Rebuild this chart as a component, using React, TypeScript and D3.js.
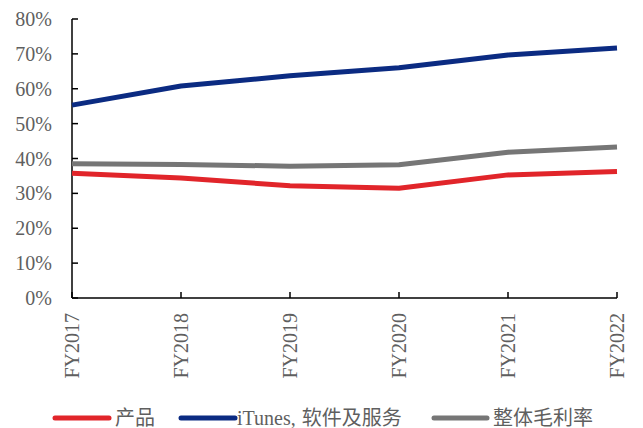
import React from "react";
import * as d3 from "d3";

// Gross margin by segment, fiscal years
const years = ["FY2017", "FY2018", "FY2019", "FY2020", "FY2021", "FY2022"];
const productMargin = [35.8, 34.4, 32.2, 31.5, 35.3, 36.3];
const servicesMargin = [55.3, 60.8, 63.7, 66.0, 69.7, 71.7];
const totalMargin = [38.5, 38.3, 37.8, 38.2, 41.8, 43.3];
const yTicks = [0, 10, 20, 30, 40, 50, 60, 70, 80];

const seriesNames = ["产品", "iTunes,软件及服务", "整体毛利率"];
const seriesColors = ["#E1252A", "#0B2B82", "#767676"];

const W = 643;
const H = 428;
const M = { left: 72, right: 617, top: 19, bottom: 298 };
const FONT = '"Liberation Serif", "Times New Roman", "Noto Sans CJK SC", serif';
const TEXT = "#5f5f5f";

// Split a label after its comma so the CJK part can sit a little apart
function labelParts(name: string) {
  const k = name.indexOf(",");
  if (k < 0) return [name];
  return [name.slice(0, k + 1), name.slice(k + 1)];
}

export default function App() {
  const x = d3.scalePoint<string>().domain(years).range([M.left, M.right]);
  const y = d3.scaleLinear().domain([0, 80]).range([M.bottom, M.top]);
  const line = d3
    .line<number>()
    .x((_, i) => x(years[i]) as number)
    .y((d) => y(d));

  const series = [productMargin, servicesMargin, totalMargin];

  // legend entries: line start, line end, text start
  const legend = [
    { x1: 55, x2: 109, tx: 115 },
    { x1: 181, x2: 235, tx: 237 },
    { x1: 434, x2: 487, tx: 493 },
  ];

  return (
    <svg
      width={W}
      height={H}
      style={{ position: "absolute", left: 0, top: 0, background: "#fff" }}
      fontFamily={FONT}
    >
      {/* y axis ticks and labels */}
      {yTicks.map((t) => (
        <g key={t}>
          <line x1={M.left} x2={M.left + 6} y1={y(t)} y2={y(t)} stroke="#000" strokeWidth={1.5} />
          <text x={52} y={y(t)} dy="0.35em" textAnchor="end" fontSize={20} fill={TEXT}>
            {t}%
          </text>
        </g>
      ))}
      {/* x axis ticks and rotated labels */}
      {years.map((yr) => (
        <g key={yr}>
          <line
            x1={x(yr)}
            x2={x(yr)}
            y1={M.bottom}
            y2={M.bottom - 6}
            stroke="#000"
            strokeWidth={1.5}
          />
          <text
            transform={`translate(${(x(yr) as number) + 7},${M.bottom + 15}) rotate(-90)`}
            textAnchor="end"
            fontSize={20}
            fill={TEXT}
          >
            {yr}
          </text>
        </g>
      ))}
      <line x1={M.left} x2={M.left} y1={M.top} y2={M.bottom} stroke="#000" strokeWidth={1.5} />
      <line x1={M.left} x2={M.right} y1={M.bottom} y2={M.bottom} stroke="#000" strokeWidth={1.5} />

      {/* series lines */}
      {series.map((s, i) => (
        <path
          key={i}
          d={line(s) ?? ""}
          fill="none"
          stroke={seriesColors[i]}
          strokeWidth={5}
          strokeLinejoin="round"
        />
      ))}

      {/* legend */}
      {legend.map((l, i) => (
        <g key={i}>
          <line
            x1={l.x1}
            x2={l.x2}
            y1={418}
            y2={418}
            stroke={seriesColors[i]}
            strokeWidth={5}
            strokeLinecap="round"
          />
          <text x={l.tx} y={418} dy="0.35em" fontSize={20} fill={TEXT}>
            {labelParts(seriesNames[i]).map((p, j) => (
              <tspan key={j} dx={j > 0 ? 6 : 0}>
                {p}
              </tspan>
            ))}
          </text>
        </g>
      ))}
    </svg>
  );
}
